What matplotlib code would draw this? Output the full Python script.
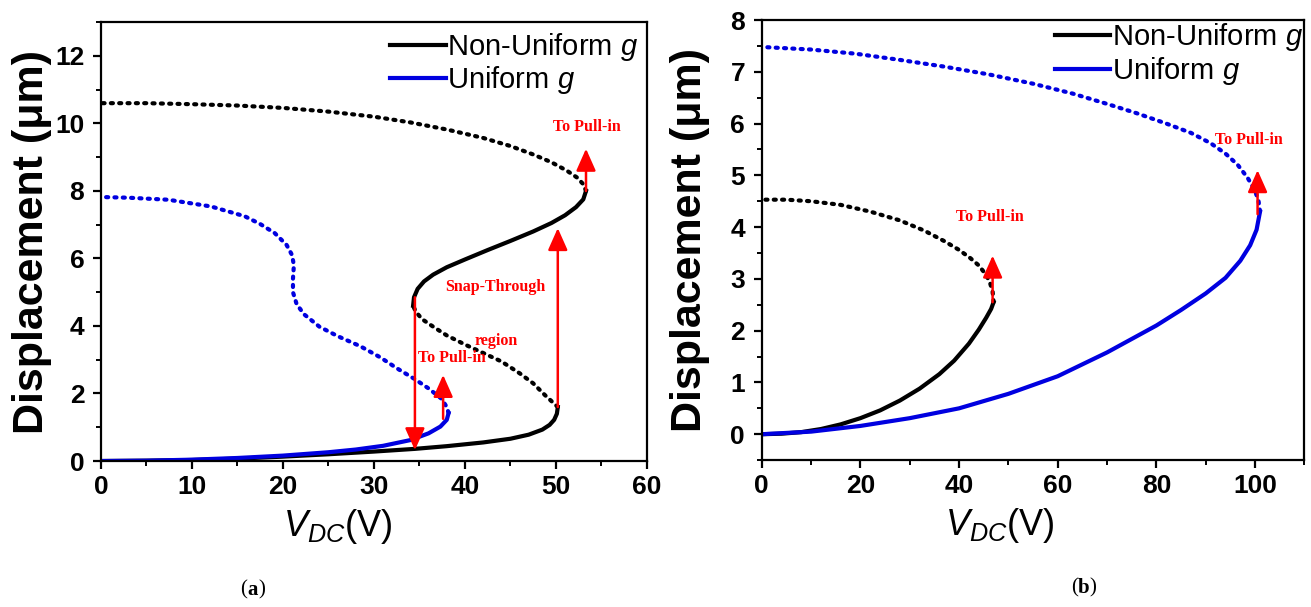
import matplotlib
matplotlib.use("Agg")
import matplotlib.pyplot as plt
from matplotlib.ticker import MultipleLocator

# ---- panel (a) ----
a_black_stable_lo_v = [0, 5, 10, 15, 20, 25, 30, 34.5, 38, 42, 45, 47, 48.5, 49.3, 49.8, 50.1, 50.2]
a_black_stable_lo_y = [0, 0.01, 0.03, 0.07, 0.13, 0.2, 0.28, 0.36, 0.44, 0.55, 0.66, 0.78, 0.93, 1.07, 1.22, 1.4, 1.6]
a_black_unstable_lo_v = [50.2, 49.6, 48.8, 47.5, 46, 44, 42, 40, 38, 36.5, 35.3, 34.6, 34.3]
a_black_unstable_lo_y = [1.6, 1.75, 1.95, 2.3, 2.6, 2.95, 3.2, 3.45, 3.72, 3.98, 4.2, 4.42, 4.6]
a_black_stable_hi_v = [34.3, 34.4, 34.8, 35.5, 36.5, 38, 40, 42.5, 45, 47.5, 49.5, 51, 52.2, 53, 53.3]
a_black_stable_hi_y = [4.6, 4.85, 5.1, 5.32, 5.52, 5.74, 5.97, 6.25, 6.52, 6.8, 7.05, 7.28, 7.52, 7.75, 8.0]
a_black_unstable_hi_v = [53.3, 53.0, 52.3, 51.2, 49.5, 47.5, 45, 42, 38, 34, 30, 25, 20, 15, 10, 5, 0]
a_black_unstable_hi_y = [8.0, 8.2, 8.4, 8.6, 8.85, 9.08, 9.33, 9.57, 9.82, 10.03, 10.2, 10.35, 10.46,
                         10.53, 10.57, 10.6, 10.6]
a_blue_stable_v = [0, 5, 10, 15, 20, 25, 28, 31, 34, 36, 37.3, 38.0, 38.2]
a_blue_stable_y = [0, 0.01, 0.04, 0.09, 0.16, 0.26, 0.34, 0.45, 0.62, 0.82, 1.02, 1.22, 1.42]
a_blue_unstable_v = [38.2, 38.0, 37.4, 36, 34.4, 32.5, 30.7, 28.5, 26, 24, 22.3, 21.5, 21.1,
                     21.1, 21.2, 21.0, 20.4, 19.1, 17.5, 15.8, 12.1, 7.4, 3, 0]
a_blue_unstable_y = [1.42, 1.6, 1.85, 2.15, 2.44, 2.75, 3.07, 3.4, 3.7, 3.98, 4.35, 4.65, 5.0,
                     5.4, 5.8, 6.1, 6.4, 6.75, 7.02, 7.25, 7.54, 7.74, 7.8, 7.82]
a_arrows = [(34.5, 4.85, 0.32), (50.2, 1.6, 6.9), (53.3, 8.0, 9.25), (37.6, 1.25, 2.55)]
a_notes = [("To Pull-in", 53.4, 9.9), ("Snap-Through", 43.3, 5.15),
           ("region", 43.4, 3.55), ("To Pull-in", 38.6, 3.05)]

# ---- panel (b) ----
b_black_stable_v = [0, 4, 8, 12, 16, 20, 24, 28, 32, 36, 39, 42, 44, 45.5, 46.5, 47.0]
b_black_stable_y = [0, 0.01, 0.04, 0.1, 0.19, 0.31, 0.46, 0.65, 0.88, 1.16, 1.42, 1.75, 2.02, 2.25, 2.42, 2.55]
b_black_unstable_v = [47.0, 46.8, 46.2, 45.3, 44, 42.3, 40, 37, 33, 28, 22, 16, 10, 5, 0]
b_black_unstable_y = [2.55, 2.75, 2.95, 3.1, 3.26, 3.4, 3.56, 3.73, 3.93, 4.13, 4.3, 4.43, 4.5, 4.53, 4.53]
b_blue_stable_v = [0, 10, 20, 30, 40, 50, 60, 70, 80, 85, 90, 94, 97, 99, 100.3, 101.0]
b_blue_stable_y = [0, 0.05, 0.16, 0.31, 0.5, 0.78, 1.12, 1.58, 2.1, 2.4, 2.72, 3.02, 3.35, 3.65, 3.95, 4.3]
b_blue_unstable_v = [101.0, 100.7, 100, 98.5, 96.5, 94, 91, 87, 82, 76, 70, 63, 55, 46, 37, 28, 19, 10, 0]
b_blue_unstable_y = [4.3, 4.5, 4.7, 4.95, 5.2, 5.42, 5.62, 5.82, 6.0, 6.2, 6.38, 6.58, 6.77, 6.95,
                     7.1, 7.23, 7.35, 7.43, 7.48]
b_arrows = [(46.8, 2.55, 3.45), (100.5, 4.25, 5.1)]
b_notes = [("To Pull-in", 46.3, 4.2), ("To Pull-in", 98.8, 5.69)]

labels = ["Non-Uniform $g$", "Uniform $g$"]

plt.rcParams["font.family"] = "Liberation Sans"
plt.rcParams["mathtext.fontset"] = "custom"
plt.rcParams["mathtext.rm"] = "Liberation Sans"
plt.rcParams["mathtext.it"] = "Liberation Sans:italic"

BLUE = "#0000e0"
DOT = (0, (0.5, 1.5))

fig = plt.figure(figsize=(13.11, 6.07), dpi=100)
axa = fig.add_axes([0.077, 0.2405, 0.4165, 0.723])
axb = fig.add_axes([0.581, 0.242, 0.414, 0.725])


def style(ax, xmaj, xmin, ymaj, ymin):
    for s in ax.spines.values():
        s.set_linewidth(1.6)
    ax.xaxis.set_major_locator(MultipleLocator(xmaj))
    ax.xaxis.set_minor_locator(MultipleLocator(xmin))
    ax.yaxis.set_major_locator(MultipleLocator(ymaj))
    ax.yaxis.set_minor_locator(MultipleLocator(ymin))
    ax.tick_params(which="major", direction="out", length=6, width=1.6, labelsize=19, pad=4)
    ax.tick_params(axis="y", which="major", pad=6)
    ax.tick_params(which="minor", direction="out", length=3.5, width=1.4)
    for t in ax.get_xticklabels() + ax.get_yticklabels():
        t.set_fontweight("bold")
    ax.set_ylabel("Displacement (\u03bcm)", fontsize=31, fontweight="bold")
    ax.set_xlabel(r"$V_{DC}$(V)", fontsize=26)


def dotted(ax, v, y, color):
    ax.plot(v, y, color=color, lw=3, ls=DOT, dash_capstyle="round")


def arrows(ax, items):
    for x, y0, y1 in items:
        ax.annotate("", xy=(x, y1), xytext=(x, y0),
                    arrowprops=dict(arrowstyle="-|>,head_length=0.45,head_width=0.2",
                                    color="red", lw=1.8, mutation_scale=30,
                                    shrinkA=0, shrinkB=0), zorder=5)


def notes(ax, items):
    for txt, x, y in items:
        ax.text(x, y, txt, color="red", fontsize=11.5, fontweight="bold",
                family="Liberation Serif", ha="center", va="center", zorder=6)


# panel (a)
axa.plot(a_black_stable_lo_v, a_black_stable_lo_y, color="black", lw=3, label=labels[0])
axa.plot(a_black_stable_hi_v, a_black_stable_hi_y, color="black", lw=3)
dotted(axa, a_black_unstable_lo_v, a_black_unstable_lo_y, "black")
dotted(axa, a_black_unstable_hi_v, a_black_unstable_hi_y, "black")
axa.plot(a_blue_stable_v, a_blue_stable_y, color=BLUE, lw=3, label=labels[1])
dotted(axa, a_blue_unstable_v, a_blue_unstable_y, BLUE)
arrows(axa, a_arrows)
notes(axa, a_notes)
axa.set_xlim(0, 60)
axa.set_ylim(0, 13)
style(axa, 10, 5, 2, 1)
axa.yaxis.set_label_coords(-0.09, 0.5)
axa.xaxis.set_label_coords(0.434, -0.105)
axa.legend(loc="upper right", frameon=False, fontsize=21, handlelength=1.9,
           handletextpad=0.05, labelspacing=0.05, borderaxespad=0.1, borderpad=0.2)

# panel (b)
axb.plot(b_black_stable_v, b_black_stable_y, color="black", lw=3, label=labels[0])
dotted(axb, b_black_unstable_v, b_black_unstable_y, "black")
axb.plot(b_blue_stable_v, b_blue_stable_y, color=BLUE, lw=3, label=labels[1])
dotted(axb, b_blue_unstable_v, b_blue_unstable_y, BLUE)
arrows(axb, b_arrows)
notes(axb, b_notes)
axb.set_xlim(0, 110)
axb.set_ylim(-0.5, 8)
style(axb, 20, 10, 1, 0.5)
axb.yaxis.set_label_coords(-0.096, 0.5)
axb.xaxis.set_label_coords(0.438, -0.105)
axb.legend(loc="upper right", frameon=False, fontsize=21, handlelength=1.9,
           handletextpad=0.05, labelspacing=0.05, borderaxespad=0.0, borderpad=0.05)

# panel tags
for cx, cy, tag in [(253, 590, "a"), (1084, 588, "b")]:
    fx, fy = cx / 1311, 1 - cy / 607
    fig.text(fx, fy, tag, fontsize=15, fontweight="bold", family="Liberation Serif",
             ha="center", va="center")
    fig.text(fx - 6 / 1311, fy, "(", fontsize=15, family="Liberation Serif", ha="right", va="center")
    fig.text(fx + 5 / 1311, fy, ")", fontsize=15, family="Liberation Serif", ha="left", va="center")

fig.savefig("out.png", dpi=100)
